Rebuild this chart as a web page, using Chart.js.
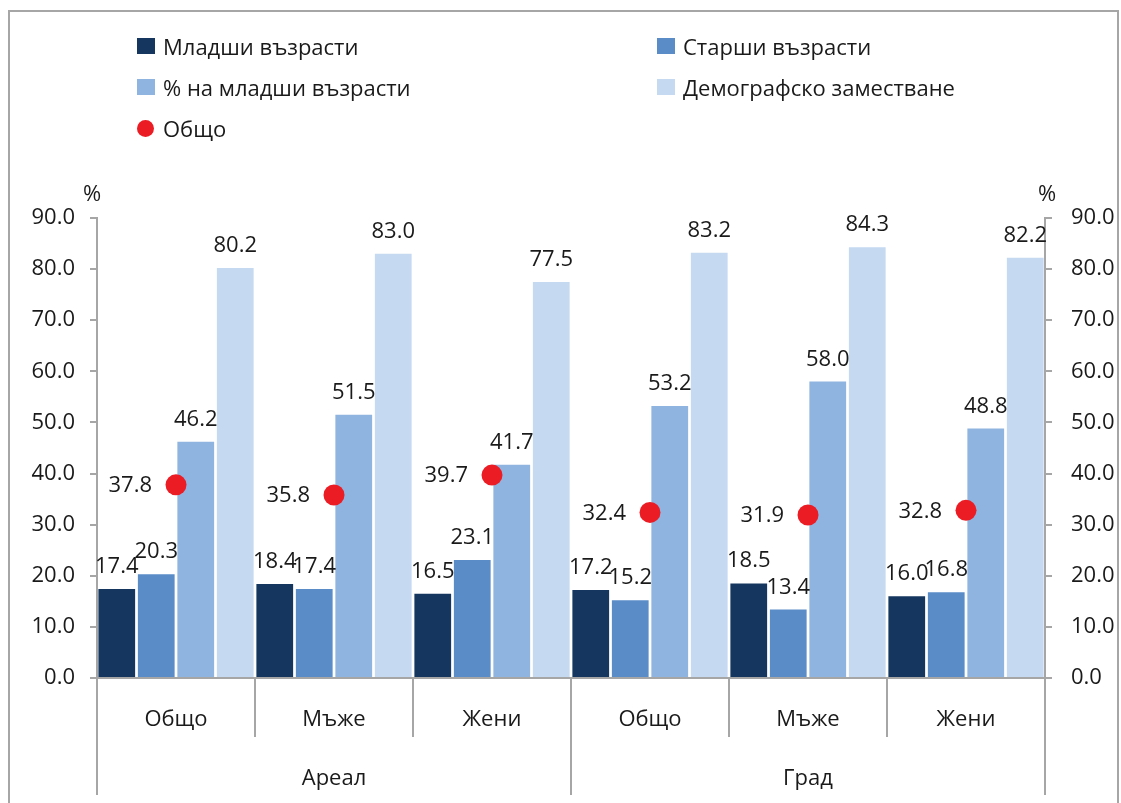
<!DOCTYPE html>
<html><head><meta charset="utf-8">
<script src="https://cdn.jsdelivr.net/npm/chart.js@4.4.0/dist/chart.umd.min.js"></script>
<style>
html,body{margin:0;padding:0;background:#fff;}
#wrap{position:relative;width:1121px;height:803px;overflow:hidden;background:#fff;}
#frame{position:absolute;left:8px;top:10px;width:1111px;height:820px;border:2px solid #a6a6a6;box-sizing:border-box;}
#c{position:absolute;left:0;top:0;}
.leg{position:absolute;font-family:'Open Sans',sans-serif;font-size:22px;color:#1a1a1a;display:flex;align-items:center;white-space:nowrap;height:26px;}
.sw{width:18px;height:16px;margin-right:8px;}
.dot{width:17px;height:17px;border-radius:50%;margin-right:9px;}
</style></head>
<body>
<div id="wrap">
<div id="frame"></div>
<canvas id="c" width="1121" height="803"></canvas>
</div>
<script>
const categories = ['Общо','Мъже','Жени','Общо','Мъже','Жени'];
const groups = ['Ареал','Град'];
const seriesNames = ['Младши възрасти','Старши възрасти','% на младши възрасти','Демографско заместване','Общо'];
const youngAges = [17.4, 18.4, 16.5, 17.2, 18.5, 16.0];
const oldAges = [20.3, 17.4, 23.1, 15.2, 13.4, 16.8];
const youngPct = [46.2, 51.5, 41.7, 53.2, 58.0, 48.8];
const replacement = [80.2, 83.0, 77.5, 83.2, 84.3, 82.2];
const total = [37.8, 35.8, 39.7, 32.4, 31.9, 32.8];
const colors = ['#15375f','#5a8cc8','#8eb4df','#c5d9f0','#ec1c24'];

// HTML legend
const legPos = [[137,46],[657,46],[137,87],[657,87],[137,128]];
const wrap = document.getElementById('wrap');
seriesNames.forEach((n,i)=>{
  const d=document.createElement('div'); d.className='leg';
  d.style.left=legPos[i][0]+'px'; d.style.top=(legPos[i][1]-13)+'px';
  const s=document.createElement('span'); s.className = i===4?'dot':'sw'; s.style.background=colors[i];
  d.appendChild(s); d.appendChild(document.createTextNode(n)); wrap.appendChild(d);
});

const FONT = '"Open Sans", sans-serif';
const TXT = '#1a1a1a';

const labelPlugin = {
  id:'valLabels',
  afterDatasetsDraw(chart){
    const ctx=chart.ctx; ctx.save();
    ctx.font='22px '+FONT; ctx.fillStyle=TXT;
    chart.data.datasets.forEach((ds,i)=>{
      const meta=chart.getDatasetMeta(i);
      meta.data.forEach((el,j)=>{
        const txt=ds.data[j].toFixed(1);
        if(ds.type==='line'){ctx.textAlign='right';ctx.textBaseline='middle';ctx.fillText(txt,el.x-24,el.y+1);}
        else{ctx.textAlign='center';ctx.textBaseline='alphabetic';ctx.fillText(txt,el.x,el.y-16);}
      });
    });
    ctx.restore();
  }
};

const axisPlugin = {
  id:'multiAxis',
  afterDraw(chart){
    const ctx=chart.ctx, xs=chart.scales.x, a=chart.chartArea;
    const half=(xs.getPixelForValue(1)-xs.getPixelForValue(0))/2;
    ctx.save();
    ctx.strokeStyle='#a6a6a6'; ctx.lineWidth=2;
    for(let i=0;i<=categories.length;i++){
      const x=Math.round(xs.getPixelForValue(i)-half);
      const len = (i%3===0)?117:59;
      ctx.beginPath(); ctx.moveTo(x,a.bottom); ctx.lineTo(x,a.bottom+len); ctx.stroke();
    }
    ctx.font='22px '+FONT; ctx.fillStyle=TXT; ctx.textAlign='center'; ctx.textBaseline='middle';
    categories.forEach((c,i)=>ctx.fillText(c,xs.getPixelForValue(i),a.bottom+42));
    groups.forEach((g,gi)=>{
      const x=(xs.getPixelForValue(gi*3)+xs.getPixelForValue(gi*3+2))/2;
      ctx.fillText(g,x,a.bottom+101);
    });
    ctx.fillText('%',a.left-5,a.top-23);
    ctx.fillText('%',a.right+2,a.top-23);
    ctx.restore();
  }
};

const barDs = (label,data,color)=>({type:'bar',label,data,backgroundColor:color,barPercentage:0.93,categoryPercentage:1,order:1,yAxisID:'y'});

new Chart(document.getElementById('c'),{
  data:{
    labels:categories,
    datasets:[
      barDs(seriesNames[0],youngAges,colors[0]),
      barDs(seriesNames[1],oldAges,colors[1]),
      barDs(seriesNames[2],youngPct,colors[2]),
      barDs(seriesNames[3],replacement,colors[3]),
      {type:'line',label:seriesNames[4],data:total,showLine:false,pointRadius:10.5,pointHoverRadius:10.5,pointBackgroundColor:colors[4],pointBorderWidth:0,borderColor:colors[4],backgroundColor:colors[4],order:0,yAxisID:'y'}
    ]
  },
  options:{
    responsive:false, animation:false, devicePixelRatio:1,
    layout:{padding:{top:218,left:0,right:0,bottom:0}},
    plugins:{legend:{display:false},tooltip:{enabled:false}},
    scales:{
      x:{
        grid:{display:false},
        border:{display:true,color:'#a6a6a6',width:2},
        ticks:{display:false},
        afterFit(s){s.height=125;}
      },
      y:{
        position:'left',min:0,max:90,
        grid:{display:true,drawOnChartArea:false,drawTicks:true,tickLength:7,color:'#a6a6a6',lineWidth:2},
        border:{display:true,color:'#a6a6a6',width:2},
        ticks:{stepSize:10,padding:15,color:TXT,font:{family:'Open Sans',size:22},callback:v=>v.toFixed(1)},
        afterFit(s){s.width=97;}
      },
      y2:{
        position:'right',min:0,max:90,
        grid:{display:true,drawOnChartArea:false,drawTicks:true,tickLength:7,color:'#a6a6a6',lineWidth:2},
        border:{display:true,color:'#a6a6a6',width:2},
        ticks:{stepSize:10,padding:19,color:TXT,font:{family:'Open Sans',size:22},callback:v=>v.toFixed(1)},
        afterFit(s){s.width=76;}
      }
    }
  },
  plugins:[labelPlugin,axisPlugin]
});
</script>
</body></html>
